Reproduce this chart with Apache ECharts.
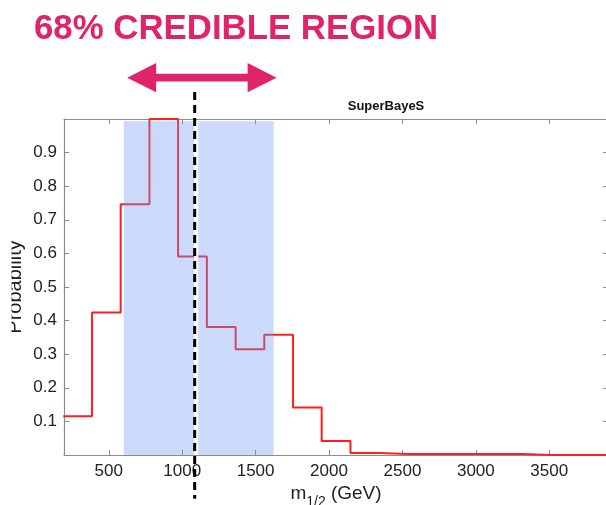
<!DOCTYPE html>
<html>
<head>
<meta charset="utf-8">
<script src="https://cdn.jsdelivr.net/npm/echarts@6/dist/echarts.min.js"></script>
<style>
html,body{margin:0;padding:0;background:#fff;}
#chart{width:606px;height:505px;}
</style>
</head>
<body>
<div id="chart"></div>
<script>
// ---- data ----
const binEdges = [190, 386, 581, 777, 972, 1168, 1364, 1559, 1755, 1950, 2146, 2341, 2537, 2732, 2928, 3123, 3319, 3514, 3710, 3905];
const probability = [0.115, 0.424, 0.746, 1.0, 0.591, 0.381, 0.315, 0.358, 0.141, 0.042, 0.006, 0.003, 0.003, 0.003, 0.003, 0.003, 0, 0, 0];
const credibleRegion = [602, 1623];   // 68% credible interval (GeV)
const medianValue = 1085;             // dashed marker (GeV)
const arrowSpan = [625, 1643];        // arrow annotation (GeV)
const xTickValues = [500, 1000, 1500, 2000, 2500, 3000, 3500];
const yTickValues = [0.1, 0.2, 0.3, 0.4, 0.5, 0.6, 0.7, 0.8, 0.9];
const titleText = '68% CREDIBLE REGION';
const subTitleText = 'SuperBayeS';

// step outline built from bins
const stepPoints = [];
for (let i = 0; i < probability.length; i++) {
  stepPoints.push([binEdges[i], probability[i]]);
  stepPoints.push([binEdges[i + 1], probability[i]]);
}

const FONT = '"Liberation Sans", Arial, Helvetica, sans-serif';
const axisGray = '#8c8c8c';

const chart = echarts.init(document.getElementById('chart'), null, {renderer: 'canvas'});

const commonX = {
  type: 'value', min: 195, max: 3900,
  splitLine: {show: false},
  axisLine: {show: true, onZero: false, lineStyle: {color: axisGray, width: 1.2}},
};
const commonY = {
  type: 'value', min: 0, max: 1,
  splitLine: {show: false},
  axisLine: {show: true, onZero: false, lineStyle: {color: axisGray, width: 1.2}},
};

chart.setOption({
  animation: false,
  backgroundColor: '#ffffff',
  title: [
    {text: titleText, left: 29, top: 7,
     textStyle: {fontFamily: FONT, fontWeight: 'bold', fontSize: 34.8, color: '#e0246a'}},
    {text: subTitleText, left: 381, top: 95, textAlign: 'center',
     textStyle: {fontFamily: FONT, fontWeight: 'bold', fontSize: 13, color: '#111'}}
  ],
  grid: {left: 64, top: 119, width: 544, height: 336, containLabel: false, outerBoundsMode: 'none'},
  xAxis: [
    Object.assign({}, commonX, {
      position: 'bottom',
      name: '{m|m}{s|1/2}{m| (GeV)}',
      nameLocation: 'middle', nameGap: 24, nameMoveOverlap: false,
      nameTextStyle: {
        rich: {
          m: {fontFamily: FONT, fontSize: 19, color: '#222'},
          s: {fontFamily: FONT, fontSize: 14, color: '#222', verticalAlign: 'bottom', padding: [16, 0, 0, 0]}
        }
      },
      axisTick: {show: true, inside: true, length: 5, lineStyle: {color: axisGray}, customValues: xTickValues},
      axisLabel: {show: true, margin: 8, fontFamily: FONT, fontSize: 17, color: '#222', customValues: xTickValues,
                  formatter: function (v) { return String(v); }}
    }),
    Object.assign({}, commonX, {
      position: 'top',
      axisTick: {show: true, inside: true, length: 5, lineStyle: {color: axisGray}, customValues: xTickValues},
      axisLabel: {show: false}
    })
  ],
  yAxis: [
    Object.assign({}, commonY, {
      position: 'left',
      name: 'Probability', nameLocation: 'middle', nameGap: 39, nameRotate: 90, nameMoveOverlap: false,
      nameTextStyle: {fontFamily: FONT, fontSize: 20, color: '#222'},
      axisTick: {show: true, inside: true, length: 5, lineStyle: {color: axisGray}, customValues: yTickValues},
      axisLabel: {show: true, margin: 7, fontFamily: FONT, fontSize: 17, color: '#222', customValues: yTickValues,
                  formatter: function (v) { return v.toFixed(1); }}
    }),
    Object.assign({}, commonY, {
      position: 'right',
      axisTick: {show: true, inside: true, length: 5, lineStyle: {color: axisGray}, customValues: yTickValues},
      axisLabel: {show: false}
    })
  ],
  graphic: [
    {type: 'rect', left: 0, top: 225, shape: {width: 11.5, height: 120}, style: {fill: '#ffffff'}, z: 100}
  ],
  series: [
    {
      type: 'line', name: 'posterior', data: stepPoints,
      xAxisIndex: 0, yAxisIndex: 0,
      showSymbol: false, symbol: 'none', clip: true, z: 2,
      lineStyle: {color: '#ff1f1f', width: 2}
    },
    {
      type: 'custom', name: 'band', xAxisIndex: 0, yAxisIndex: 0, z: 4,
      data: [[credibleRegion[0], credibleRegion[1], 0.993]],
      encode: {x: [0, 1], y: 2},
      renderItem: function (params, api) {
        const p0 = api.coord([api.value(0), api.value(2)]);
        const p1 = api.coord([api.value(1), 0]);
        return {type: 'rect', shape: {x: p0[0], y: p0[1], width: p1[0] - p0[0], height: p1[1] - p0[1]},
                style: {fill: 'rgba(110,150,240,0.36)'}};
      }
    },
    {
      type: 'custom', name: 'median', xAxisIndex: 0, yAxisIndex: 0, z: 6, clip: false,
      data: [[medianValue, -0.13, 1.08]],
      encode: {x: 0, y: [1, 2]},
      renderItem: function (params, api) {
        const top = api.coord([api.value(0), api.value(2)]);
        const bot = api.coord([api.value(0), api.value(1)]);
        const bandTop = api.coord([api.value(0), 0.993]);
        const bandBot = api.coord([api.value(0), 0]);
        return {type: 'group', children: [
          {type: 'line', shape: {x1: bandTop[0] + 1.5, y1: bandTop[1], x2: bandBot[0] + 1.5, y2: bandBot[1]},
           style: {stroke: '#ffffff', lineWidth: 4}},
          {type: 'line', shape: {x1: top[0], y1: top[1], x2: bot[0], y2: bot[1]},
           style: {stroke: '#000000', lineWidth: 3, lineDash: [8, 5]}}
        ]};
      }
    },
    {
      type: 'custom', name: 'arrow', xAxisIndex: 0, yAxisIndex: 0, z: 6, clip: false,
      data: [[arrowSpan[0], arrowSpan[1], 1.123]],
      encode: {x: [0, 1], y: 2},
      renderItem: function (params, api) {
        const L = api.coord([api.value(0), api.value(2)]);
        const R = api.coord([api.value(1), api.value(2)]);
        const h = 29, hh = 14.7, sh = 3.8, yc = L[1], xL = L[0], xR = R[0];
        return {type: 'polygon', shape: {points: [
          [xL, yc], [xL + h, yc - hh], [xL + h, yc - sh], [xR - h, yc - sh], [xR - h, yc - hh],
          [xR, yc], [xR - h, yc + hh], [xR - h, yc + sh], [xL + h, yc + sh], [xL + h, yc + hh]
        ]}, style: {fill: '#e0246a'}};
      }
    }
  ]
});
</script>
</body>
</html>
